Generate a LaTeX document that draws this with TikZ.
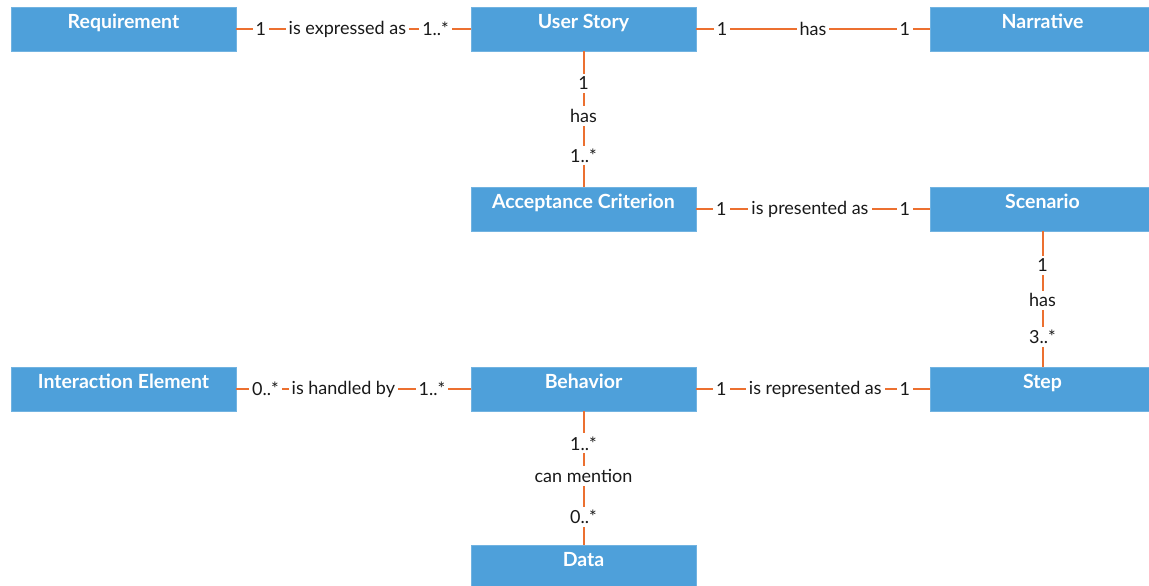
\documentclass[tikz,border=0pt]{standalone}
\usepackage{fontspec}
\setmainfont{Lato}
\definecolor{boxblue}{RGB}{78,160,218}
\definecolor{lineorange}{RGB}{236,112,48}
\definecolor{txt}{RGB}{25,25,25}
\begin{document}
\begin{tikzpicture}[x=1pt,y=-1pt,
  box/.style={fill=boxblue,draw=boxblue!80!white,line width=0.6pt,minimum width=225pt,minimum height=44pt,inner sep=0pt},
  boxtext/.style={anchor=base,text=white,font=\fontsize{19.5}{22}\selectfont\bfseries,inner sep=0pt},
  conn/.style={draw=lineorange,line width=2pt},
  lab/.style={fill=white,text=txt,font=\fontsize{18}{20}\selectfont,inner xsep=3pt,inner ysep=3pt},
  vlab/.style={fill=white,text=txt,font=\fontsize{18}{20}\selectfont,inner xsep=3pt,inner ysep=3pt}]
\useasboundingbox (0,0) rectangle (1149,586);
\fill[white] (0,0) rectangle (1149,586);
% boxes
\node[box] (req) at (123.5,29) {};
\node[box] (us) at (583.5,29) {};
\node[box] (nar) at (1042.5,29) {};
\node[box] (ac) at (583.5,209) {};
\node[box] (scen) at (1042.5,209) {};
\node[box] (ie) at (123.5,389) {};
\node[box] (beh) at (583.5,389) {};
\node[box] (step) at (1042.5,389) {};
\node[box] (data) at (583.5,567) {};
\node[boxtext] (reqt) at ([yshift=-22pt]req.north) {Requirement};
\node[boxtext] (ust) at ([yshift=-22pt]us.north) {User Story};
\node[boxtext] (nart) at ([yshift=-22pt]nar.north) {Narrative};
\node[boxtext] (act) at ([yshift=-22pt]ac.north) {Acceptance Criterion};
\node[boxtext] (scent) at ([yshift=-22pt]scen.north) {Scenario};
\node[boxtext] (iet) at ([yshift=-22pt]ie.north) {Interaction Element};
\node[boxtext] (beht) at ([yshift=-22pt]beh.north) {Behavior};
\node[boxtext] (stept) at ([yshift=-22pt]step.north) {Step};
\node[boxtext] (datat) at ([yshift=-22pt]data.north) {Data};
% connectors
\draw[conn] (req.east) -- (us.west)
  node[lab,pos=0.105] (l1a) {1}
  node[lab,pos=0.474] (l1b) {is expressed as}
  node[lab,pos=0.85] (l1c) {1..*};
\draw[conn] (us.east) -- (nar.west)
  node[lab,pos=0.111] (l2a) {1}
  node[lab,pos=0.5] (l2b) {has}
  node[lab,pos=0.893] (l2c) {1};
\draw[conn] (us.south) -- (ac.north)
  node[vlab,pos=0.235] (l3a) {1}
  node[vlab,pos=0.478] (l3b) {has}
  node[vlab,pos=0.77] (l3c) {1..*};
\draw[conn] (ac.east) -- (scen.west)
  node[lab,pos=0.107] (l4a) {1}
  node[lab,pos=0.487] (l4b) {is presented as}
  node[lab,pos=0.893] (l4c) {1};
\draw[conn] (scen.south) -- (step.north)
  node[vlab,pos=0.25] (l5a) {1}
  node[vlab,pos=0.51] (l5b) {has}
  node[vlab,pos=0.78] (l5c) {3..*};
\draw[conn] (ie.east) -- (beh.west)
  node[lab,pos=0.124] (l6a) {0..*}
  node[lab,pos=0.457] (l6b) {is handled by}
  node[lab,pos=0.835] (l6c) {1..*};
\draw[conn] (beh.east) -- (step.west)
  node[lab,pos=0.107] (l7a) {1}
  node[lab,pos=0.51] (l7b) {is represented as}
  node[lab,pos=0.893] (l7c) {1};
\draw[conn] (beh.south) -- (data.north)
  node[vlab,pos=0.24] (l8a) {1..*}
  node[vlab,pos=0.485] (l8b) {can mention}
  node[vlab,pos=0.79] (l8c) {0..*};
\end{tikzpicture}
\end{document}
